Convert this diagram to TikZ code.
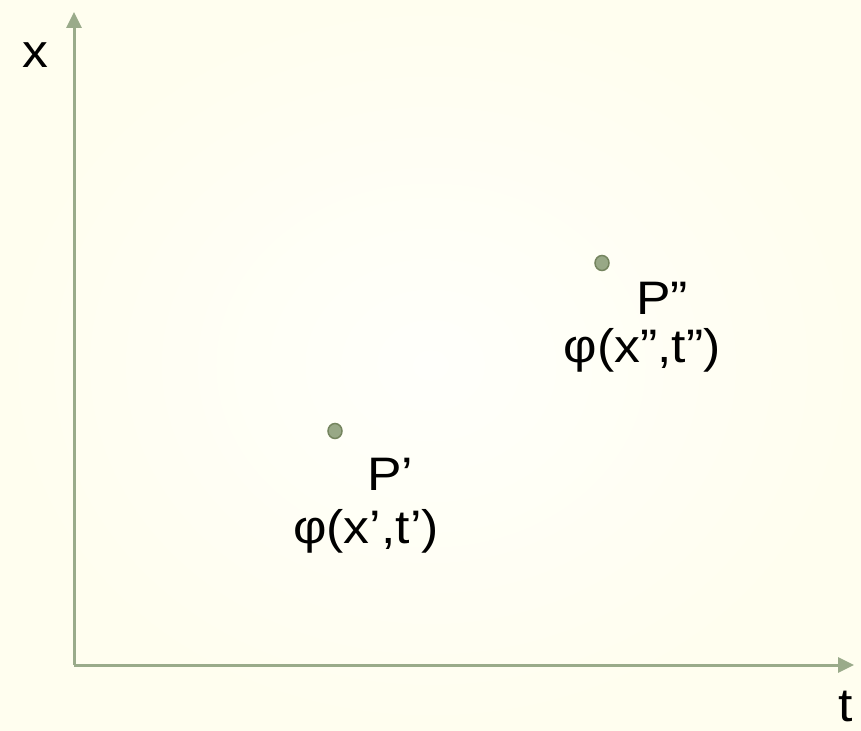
\documentclass[tikz,border=0pt]{standalone}
\usepackage{fontspec}
\setmainfont{Liberation Sans}
\usetikzlibrary{arrows.meta}
\definecolor{axisc}{HTML}{9AAB8A}
\definecolor{dotfill}{HTML}{98A886}
\definecolor{dotline}{HTML}{75855F}
\definecolor{bgout}{HTML}{FFFEEF}
\definecolor{bgin}{HTML}{FFFFFB}
\begin{document}
\begin{tikzpicture}[x=1pt,y=-1pt,
  axis/.style={line width=3pt,draw=axisc,-{Triangle[length=16pt,width=15pt]}},
  dotstyle/.style={fill=dotfill,draw=dotline,line width=1.5pt},
  lbl/.style={font=\fontsize{47}{52}\selectfont,inner sep=0pt,text=black,xscale=1.1}]
\useasboundingbox (0,0) rectangle (861,730);
\shade[inner color=bgin,outer color=bgout] (0,0) rectangle (861,730);
\coordinate (o) at (74,665);
\coordinate (xend) at (74,12);
\coordinate (tend) at (854,665);
\draw[axis] (o) -- (xend);
\draw[axis] (o) -- (tend);
\node[lbl] (xl) at (35,55) {x};
\node[lbl] (tl) at (846,706) {t};
\coordinate (p2) at (602,263);
\coordinate (p1) at (335,431);
\draw[dotstyle] (p2) ellipse[x radius=7pt,y radius=7.5pt];
\draw[dotstyle] (p1) ellipse[x radius=7pt,y radius=7.5pt];
\node[lbl] (p2l) at (662,298) {P”};
\node[lbl] (f2) at (642,350) {φ(x”,t”)};
\node[lbl] (p1l) at (390,474) {P’};
\node[lbl] (f1) at (366,531) {φ(x’,t’)};
\end{tikzpicture}
\end{document}
